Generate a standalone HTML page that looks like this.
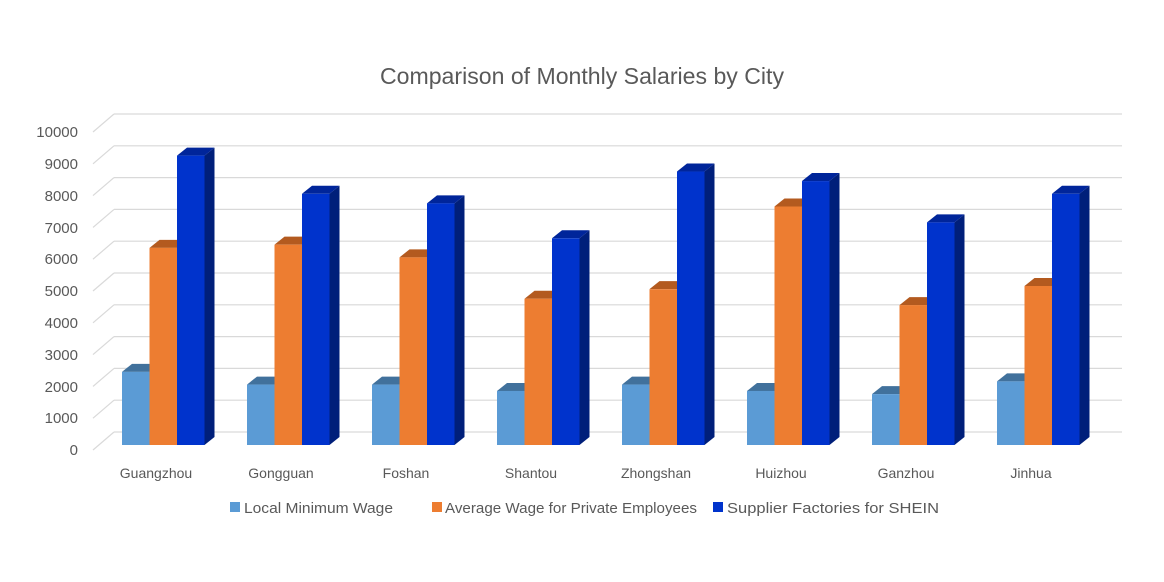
<!DOCTYPE html>
<html><head><meta charset="utf-8"><style>
html,body{margin:0;padding:0;background:#fff;}
svg{display:block;font-family:"Liberation Sans",sans-serif;}
</style></head><body>
<svg id="s" width="1164" height="582" viewBox="0 0 1164 582">
<rect width="1164" height="582" fill="#fff"/>
<g id="grid"></g>
<g id="bars"></g>
<text x="380" y="84" font-size="23" fill="#595959" textLength="404" lengthAdjust="spacingAndGlyphs">Comparison of Monthly Salaries by City</text>
<g font-size="15" fill="#595959" text-anchor="end">
<text x="78" y="137">10000</text><text x="78" y="169">9000</text><text x="78" y="201">8000</text><text x="78" y="233">7000</text><text x="78" y="264">6000</text><text x="78" y="296">5000</text><text x="78" y="328">4000</text><text x="78" y="360">3000</text><text x="78" y="392">2000</text><text x="78" y="423">1000</text><text x="78" y="455">0</text>
</g>
<g font-size="14" fill="#595959" text-anchor="middle">
<text x="156" y="478">Guangzhou</text><text x="281" y="478">Gongguan</text><text x="406" y="478">Foshan</text><text x="531" y="478">Shantou</text><text x="656" y="478">Zhongshan</text><text x="781" y="478">Huizhou</text><text x="906" y="478">Ganzhou</text><text x="1031" y="478">Jinhua</text>
</g>
<g font-size="15" fill="#595959">
<rect x="230" y="502" width="10" height="10" fill="#5B9BD5"/><text x="244" y="513" textLength="149" lengthAdjust="spacingAndGlyphs">Local Minimum Wage</text>
<rect x="432" y="502" width="10" height="10" fill="#ED7D31"/><text x="445" y="513" textLength="252" lengthAdjust="spacingAndGlyphs">Average Wage for Private Employees</text>
<rect x="713" y="502" width="10" height="10" fill="#0033CC"/><text x="727" y="513" textLength="212" lengthAdjust="spacingAndGlyphs">Supplier Factories for SHEIN</text>
</g>
</svg>
<script>
var ns="http://www.w3.org/2000/svg";
function el(p,t,a){var e=document.createElementNS(ns,t);for(var k in a)e.setAttribute(k,a[k]);p.appendChild(e);return e;}
var g=document.getElementById('grid'),b=document.getElementById('bars');
for(var k=0;k<=10;k++){var yb=114+31.8*k,yf=132+31.8*k;
el(g,'line',{x1:114,y1:yb,x2:1122,y2:yb,stroke:'#d9d9d9','stroke-width':1.2});
el(g,'line',{x1:93,y1:yf,x2:114,y2:yb,stroke:'#d9d9d9','stroke-width':1.2});}
var d=[[2300,6200,9100],[1900,6300,7900],[1900,5900,7600],[1700,4600,6500],[1900,4900,8600],[1700,7500,8300],[1600,4400,7000],[2000,5000,7900]];
var cols=[['#5B9BD5','#41719C','#3A6A95'],['#ED7D31','#B35A1F','#A9521A'],['#0033CC','#00259A','#001F7A']];
var base=445,sc=0.0318,w=27.5,dx=10,dy=8;
d.forEach(function(r,i){var x0=122+125*i;
 for(var j=0;j<3;j++){var x=x0+w*j,h=r[j]*sc,y=base-h;
  el(b,'polygon',{points:(x+w)+','+y+' '+(x+w+dx)+','+(y-dy)+' '+(x+w+dx)+','+(base-dy)+' '+(x+w)+','+base,fill:cols[j][2]});
  el(b,'polygon',{points:x+','+y+' '+(x+dx)+','+(y-dy)+' '+(x+w+dx)+','+(y-dy)+' '+(x+w)+','+y,fill:cols[j][1]});
  el(b,'rect',{x:x,y:y,width:w,height:h,fill:cols[j][0]});
 }});
</script>
</body></html>
